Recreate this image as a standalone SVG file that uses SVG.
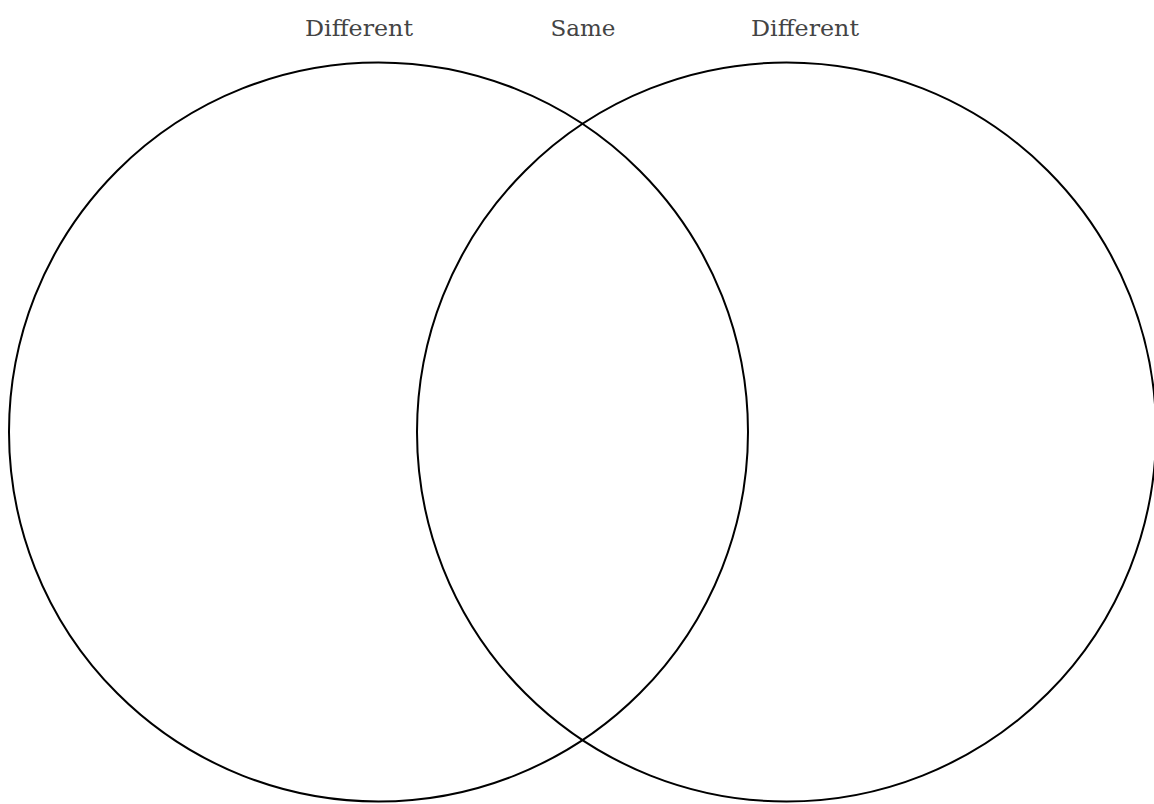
<svg xmlns="http://www.w3.org/2000/svg" width="1154" height="804" viewBox="0 0 1154 804">
<style>
.c{fill:none;stroke:#000;stroke-width:2}
.t{font-family:"DejaVu Serif","Liberation Serif",serif;font-size:22px;fill:#444;text-anchor:middle}
</style>
<rect width="1154" height="804" fill="#fff"/>
<g id="left-circle"><circle class="c" cx="378.5" cy="432" r="369.5"/></g>
<g id="right-circle"><circle class="c" cx="786.5" cy="432" r="369.5"/></g>
<g id="labels">
<text class="t" x="359" y="36" textLength="108" lengthAdjust="spacingAndGlyphs">Different</text>
<text class="t" x="583" y="36" textLength="65" lengthAdjust="spacingAndGlyphs">Same</text>
<text class="t" x="805" y="36" textLength="108" lengthAdjust="spacingAndGlyphs">Different</text>
</g>
</svg>
